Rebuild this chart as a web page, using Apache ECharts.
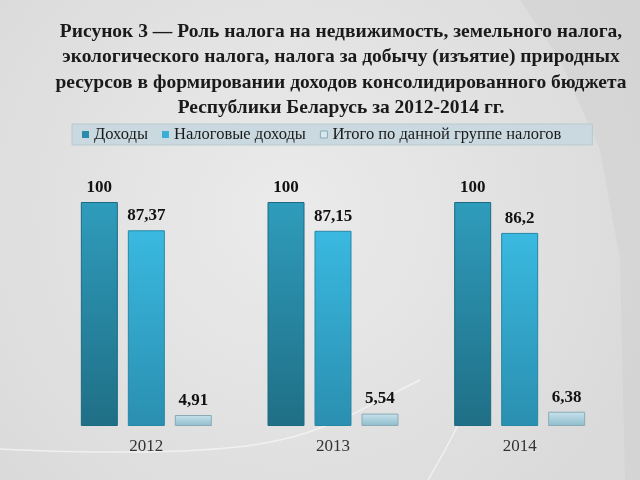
<!DOCTYPE html>
<html><head><meta charset="utf-8">
<script src="https://cdn.jsdelivr.net/npm/echarts@6/dist/echarts.min.js"></script>
<style>html,body{margin:0;padding:0;background:#e3e3e3}#c{width:640px;height:480px}</style>
</head><body><div id="c"></div>
<script>
const categories = ['2012', '2013', '2014'];
const seriesNames = ['Доходы', 'Налоговые доходы', 'Итого по данной группе налогов'];
const incomeValues = [100, 100, 100];
const taxIncomeValues = [87.37, 87.15, 86.2];
const groupValues = [4.91, 5.54, 6.38];
const titleText = 'Рисунок 3 — Роль налога на недвижимость, земельного налога,\nэкологического налога, налога за добычу (изъятие) природных\nресурсов в формировании доходов консолидированного бюджета\nРеспублики Беларусь за 2012-2014 гг.';

const serif = '"Liberation Serif", "DejaVu Serif", serif';
function grad(top, bottom) {
  return new echarts.graphic.LinearGradient(0, 0, 0, 1, [{offset: 0, color: top}, {offset: 1, color: bottom}]);
}
const labelCfg = {
  show: true, position: 'top', distance: 6,
  fontFamily: serif, fontWeight: 'bold', fontSize: 17, color: '#111',
  formatter: p => String(p.value).replace('.', ',')
};
const colors = [
  {fill: grad('#2f9cbc', '#1f6f86'), legend: '#2a8cab', border: '#1c6a80', lb: 0},
  {fill: grad('#3ab9e0', '#2a8fb0'), legend: '#38b0d6', border: '#2687a6', lb: 0},
  {fill: grad('#c8e2ec', '#8fbccc'), legend: '#d8e8ee', border: '#8aaab6', lb: 1}
];
const chart = echarts.init(document.getElementById('c'));
chart.setOption({
  backgroundColor: new echarts.graphic.RadialGradient(0.45, 0.45, 0.8, [{offset: 0, color: '#ebebeb'}, {offset: 1, color: '#dadada'}]),
  graphic: [
    {
      type: 'polygon', silent: true, z: -2,
      shape: {points: [[520, 0], [640, 0], [640, 480], [625, 480], [620, 260], [600, 150], [560, 60]]},
      style: {fill: 'rgba(190,190,190,0.2)'}
    },
    {
      type: 'polyline', silent: true, z: -1,
      shape: {points: [[0, 449], [100, 452], [200, 450], [280, 440], [340, 420], [380, 400], [420, 380]], smooth: 0.4},
      style: {stroke: 'rgba(248,248,248,0.7)', lineWidth: 1.5, fill: null}
    },
    {
      type: 'polyline', silent: true, z: -1,
      shape: {points: [[428, 480], [445, 450], [458, 425]], smooth: 0.3},
      style: {stroke: 'rgba(248,248,248,0.7)', lineWidth: 1.5, fill: null}
    }
  ],
  title: {
    text: titleText, left: 336, top: 14, textAlign: 'center',
    textStyle: {fontFamily: serif, fontWeight: 'bold', fontSize: 19.5, color: '#1a1a1a', lineHeight: 25.5}
  },
  legend: {
    left: 72, top: 124, width: 521, itemWidth: 7, itemHeight: 7, itemGap: 14,
    padding: [2, 31, 2, 10],
    backgroundColor: '#c9d9df', borderColor: '#b9c9cf', borderWidth: 1,
    textStyle: {fontFamily: serif, fontSize: 16.5, color: '#1a1a1a'},
    icon: 'rect',
    data: seriesNames.map((n, i) => ({name: n, itemStyle: {color: colors[i].legend, borderColor: colors[i].border, borderWidth: colors[i].lb}}))
  },
  grid: {left: 53, right: 27, top: 202, bottom: 54},
  xAxis: {
    type: 'category', data: categories,
    axisLine: {show: false}, axisTick: {show: false},
    axisLabel: {fontFamily: serif, fontSize: 17, color: '#333', margin: 12}
  },
  yAxis: {type: 'value', min: 0, max: 100, show: false, splitLine: {show: false}},
  series: [incomeValues, taxIncomeValues, groupValues].map((d, i) => ({
    type: 'bar', name: seriesNames[i], data: d,
    barWidth: 37, barGap: '27%',
    itemStyle: {color: colors[i].fill, borderColor: colors[i].border, borderWidth: 1},
    label: labelCfg
  }))
});
</script></body></html>
